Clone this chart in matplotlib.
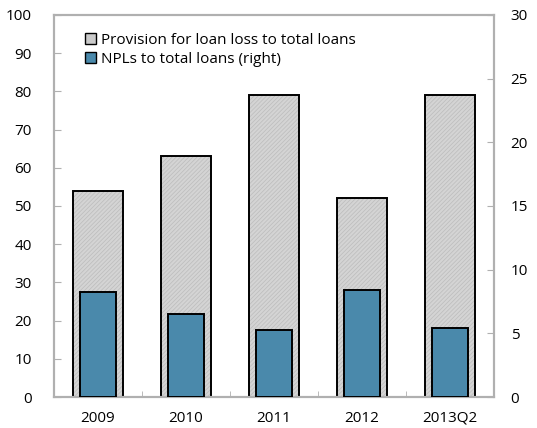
import numpy as np
import matplotlib.pyplot as plt
from matplotlib.patches import Patch

plt.rcParams["font.family"] = ["Open Sans", "DejaVu Sans"]
plt.rcParams["hatch.linewidth"] = 0.5

# Data
categories = ["2009", "2010", "2011", "2012", "2013Q2"]
provision = [54, 63, 79, 52, 79]        # left axis, percent
npls = [8.25, 6.5, 5.25, 8.4, 5.45]     # right axis, percent

x = np.arange(len(categories))
grey_spine = "#b0b0b0"
grey_fill = "#d4d4d4"
blue = "#4a89ab"

fig = plt.figure(figsize=(5.37, 4.28), dpi=100)
ax = fig.add_axes([0.1006, 0.0724, 0.8194, 0.8926])
ax2 = ax.twinx()

# fill with a faint texture, then black outline on top
ax.bar(x, provision, width=0.57, color=grey_fill, edgecolor="#bcbcbc",
       linewidth=0, hatch="////////", zorder=2)
ax.bar(x, provision, width=0.57, fill=False, edgecolor="black",
       linewidth=1.4, zorder=2)
ax2.bar(x, npls, width=0.41, color=blue, edgecolor="black",
        linewidth=1.4, zorder=3)

ax.set_xlim(-0.5, len(categories) - 0.5)
ax.set_ylim(0, 100)
ax2.set_ylim(0, 30)
ax.set_yticks(range(0, 101, 10))
ax2.set_yticks(range(0, 31, 5))

# category ticks between groups
ax.set_xticks(x)
ax.set_xticklabels(categories)
ax.set_xticks(np.arange(0.5, len(categories) - 1, 1), minor=True)
ax.tick_params(axis="x", which="major", length=0, pad=10, labelsize=11)
ax.tick_params(axis="x", which="minor", direction="in", length=4,
               color=grey_spine)
ax.tick_params(axis="y", direction="in", length=5, color=grey_spine,
               labelsize=11, pad=16)
ax2.tick_params(axis="y", direction="in", length=5, color=grey_spine,
                labelsize=11, pad=12)

for a in (ax, ax2):
    for s in a.spines.values():
        s.set_color(grey_spine)
        s.set_linewidth(1.5)

handles = [
    Patch(facecolor="#cacaca", edgecolor="black",
          label="Provision for loan loss to total loans"),
    Patch(facecolor=blue, edgecolor="black",
          label="NPLs to total loans (right)"),
]
ax2.legend(handles=handles, loc="upper left", bbox_to_anchor=(0.04, 0.99),
           frameon=False, fontsize=11, handlelength=0.7, handleheight=0.7,
           handletextpad=0.3, labelspacing=0.3)

fig.savefig("out.png", dpi=100)
